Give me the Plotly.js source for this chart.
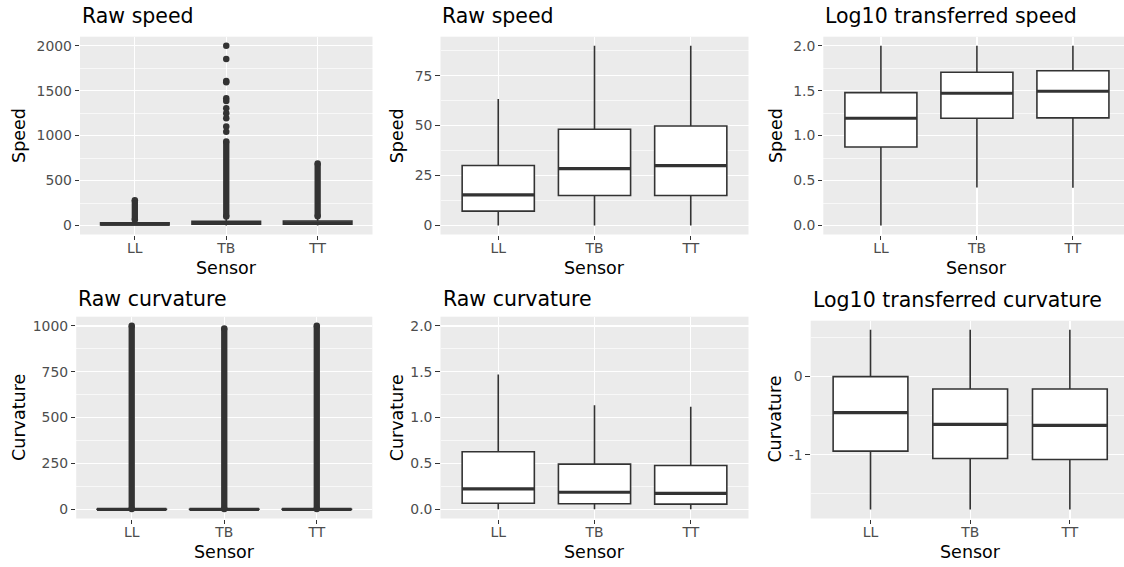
<!DOCTYPE html>
<html>
<head>
<meta charset="utf-8">
<script src="https://cdn.plot.ly/plotly-3.0.1.min.js"></script>
<style>html,body{margin:0;padding:0;background:#fff}#chart{width:1124px;height:567px}</style>
</head>
<body>
<div id="chart"></div>
<script>
// ---------- data ----------
const categories = ['LL', 'TB', 'TT'];

// Raw speed (full data)
const rawSpeedQ1  = [7, 15, 15];
const rawSpeedMed = [15, 28.5, 30];
const rawSpeedQ3  = [30, 48, 50];
const rawSpeedLo  = [0, 0, 0];
const rawSpeedHi  = [63, 97, 101];
const rawSpeedOutLo = [65, 100, 104];
const rawSpeedOutHi = [280, 935, 690];
const rawSpeedTBOutliers = [2000, 1852, 1607, 1593, 1415, 1385, 1304, 1248, 1193, 1100, 1044];

// Raw speed (limited)
const limSpeedQ1  = [7.2, 15, 15];
const limSpeedMed = [15.3, 28.5, 30];
const limSpeedQ3  = [30, 48.2, 49.8];
const limSpeedLo  = [0, 0, 0];
const limSpeedHi  = [63.3, 90, 90];

// Log10 speed
const logSpeedQ1  = [0.874, 1.193, 1.197];
const logSpeedMed = [1.193, 1.471, 1.493];
const logSpeedQ3  = [1.478, 1.704, 1.722];
const logSpeedLo  = [0, 0.422, 0.42];
const logSpeedHi  = [2, 2, 2];

// Raw curvature
const rawCurvQ1  = [0.066, 0.061, 0.057];
const rawCurvMed = [0.222, 0.186, 0.175];
const rawCurvQ3  = [0.627, 0.493, 0.478];
const rawCurvLo  = [0, 0, 0];
const rawCurvHi  = [1.47, 1.135, 1.117];
const rawCurvOutLo = [1.5, 1.16, 1.14];
const rawCurvOutHi = [1000, 985, 1000];

// Log10 curvature
const logCurvQ1  = [-0.953, -1.047, -1.06];
const logCurvMed = [-0.462, -0.61, -0.623];
const logCurvQ3  = [0.0, -0.158, -0.158];
const logCurvLo  = [-1.7, -1.7, -1.7];
const logCurvHi  = [0.6, 0.6, 0.6];

// tick labels
const tickSpeedRaw = [0, 500, 1000, 1500, 2000];
const tickSpeedLim = [0, 25, 50, 75];
const tickUnit     = [0, 0.5, 1, 1.5, 2];
const tickUnitText = ['0.0', '0.5', '1.0', '1.5', '2.0'];
const tickCurvRaw  = [0, 250, 500, 750, 1000];
const tickCurvLog  = [-1, 0];
const tickCurvLogText = ['-1', '0'];

const panelTitles = ['Raw speed', 'Raw speed', 'Log10 transferred speed',
                     'Raw curvature', 'Raw curvature', 'Log10 transferred curvature'];
const yTitles = ['Speed', 'Speed', 'Speed', 'Curvature', 'Curvature', 'Curvature'];
const xTitle = 'Sensor';

// ---------- styling / layout ----------
const W = 1124, H = 567;
const FONT = 'DejaVu Sans';
const DARK = '#333333';
const BW = 0.75;
const idx = categories.map((c, i) => i);

// panel rectangles in px: [left, right, top, bottom]
const panels = [
  [80, 372.5, 36.7, 234.5],
  [440.5, 748.5, 36.7, 234.5],
  [823.3, 1124, 36.7, 234.5],
  [76.2, 372.3, 316.7, 518.5],
  [440.5, 748.5, 316.7, 518.5],
  [810.7, 1124, 320.7, 518.5]
];
const xRanges = [[-0.6, 2.6], [-0.6, 2.6], [-0.6, 2.532], [-0.6, 2.6], [-0.6, 2.6], [-0.6, 2.543]];
const yRanges = [[-100, 2100], [-4.5, 94.5], [-0.1, 2.1], [-50, 1050], [-0.1, 2.1], [-1.815, 0.715]];
const yTicks = [
  [tickSpeedRaw, tickSpeedRaw.map(String)],
  [tickSpeedLim, tickSpeedLim.map(String)],
  [tickUnit, tickUnitText],
  [tickCurvRaw, tickCurvRaw.map(String)],
  [tickUnit, tickUnitText],
  [tickCurvLog, tickCurvLogText]
];
const yMinor = [
  [250, 750, 1250, 1750],
  [12.5, 37.5, 62.5, 87.5],
  [0.25, 0.75, 1.25, 1.75],
  [125, 375, 625, 875],
  [0.25, 0.75, 1.25, 1.75],
  [-1.5, -0.5, 0.5]
];
const yTitleX = [18.3, 396.7, 775.5, 18.3, 396.7, 775];
const titleY = [15.5, 15.5, 15.5, 299.3, 299.3, 300.3];
const xTitleY = [268.5, 268.5, 268.5, 551.5, 551.5, 551.5];

const traces = [];
function ax(i, kind) { return kind + (i === 0 ? '' : (i + 1)); }

function addBox(i, q1, med, q3, lo, hi) {
  traces.push({
    type: 'box', x: idx, q1: q1, median: med, q3: q3, lowerfence: lo, upperfence: hi,
    width: BW, whiskerwidth: 0, boxpoints: false,
    fillcolor: '#ffffff', line: {color: DARK, width: 1.6},
    xaxis: ax(i, 'x'), yaxis: ax(i, 'y'), hoverinfo: 'skip'
  });
  const mx = [], my = [];
  idx.forEach(k => { mx.push(k - BW / 2, k + BW / 2, null); my.push(med[k], med[k], null); });
  traces.push({
    type: 'scatter', mode: 'lines', x: mx, y: my,
    line: {color: DARK, width: 3.2}, xaxis: ax(i, 'x'), yaxis: ax(i, 'y'), hoverinfo: 'skip'
  });
}
function addColumn(i, lo, hi) {
  const cx = [], cy = [];
  idx.forEach(k => { cx.push(k, k, null); cy.push(lo[k], hi[k], null); });
  traces.push({
    type: 'scatter', mode: 'lines+markers', x: cx, y: cy,
    line: {color: DARK, width: 6.3}, marker: {color: DARK, size: 6.5},
    xaxis: ax(i, 'x'), yaxis: ax(i, 'y'), hoverinfo: 'skip'
  });
}

// panel 1
addBox(0, rawSpeedQ1, rawSpeedMed, rawSpeedQ3, rawSpeedLo, rawSpeedHi);
addColumn(0, rawSpeedOutLo, rawSpeedOutHi);
traces.push({
  type: 'scatter', mode: 'markers',
  x: rawSpeedTBOutliers.map(() => categories.indexOf('TB')), y: rawSpeedTBOutliers,
  marker: {color: DARK, size: 6.5}, xaxis: 'x', yaxis: 'y', hoverinfo: 'skip'
});
// panel 2
addBox(1, limSpeedQ1, limSpeedMed, limSpeedQ3, limSpeedLo, limSpeedHi);
// panel 3
addBox(2, logSpeedQ1, logSpeedMed, logSpeedQ3, logSpeedLo, logSpeedHi);
// panel 4
addBox(3, rawCurvQ1, rawCurvMed, rawCurvQ3, rawCurvLo, rawCurvHi);
addColumn(3, rawCurvOutLo, rawCurvOutHi);
// panel 5
addBox(4, rawCurvQ1, rawCurvMed, rawCurvQ3, rawCurvLo, rawCurvHi);
// panel 6
addBox(5, logCurvQ1, logCurvMed, logCurvQ3, logCurvLo, logCurvHi);

const layout = {
  width: W, height: H,
  margin: {l: 0, r: 0, t: 0, b: 0, pad: 0},
  paper_bgcolor: '#ffffff', plot_bgcolor: '#EBEBEB',
  showlegend: false,
  font: {family: FONT, color: '#000000'},
  annotations: []
};

panels.forEach((p, i) => {
  const tickFont = {family: FONT, size: 13.9, color: '#4D4D4D'};
  layout[ax(i, 'xaxis')] = {
    domain: [p[0] / W, Math.min(p[1] / W, 1)],
    range: xRanges[i], anchor: ax(i, 'y'),
    tickmode: 'array', tickvals: idx, ticktext: categories,
    showgrid: true, gridcolor: '#ffffff', gridwidth: 1.3,
    zeroline: false, showline: false,
    ticks: 'outside', ticklen: 4.3, tickwidth: 1.1, tickcolor: DARK,
    ticklabelstandoff: -3,
    tickfont: tickFont, automargin: false, fixedrange: true
  };
  layout[ax(i, 'yaxis')] = {
    domain: [1 - p[3] / H, 1 - p[2] / H],
    range: yRanges[i], anchor: ax(i, 'x'),
    tickmode: 'array', tickvals: yTicks[i][0], ticktext: yTicks[i][1],
    showgrid: true, gridcolor: '#ffffff', gridwidth: 1.3,
    minor: {tickmode: 'array', tickvals: yMinor[i], showgrid: true, gridcolor: '#ffffff', gridwidth: 0.65, ticks: ''},
    zeroline: false, showline: false,
    ticks: 'outside', ticklen: 4.3, tickwidth: 1.1, tickcolor: DARK,
    tickfont: tickFont, automargin: false, fixedrange: true
  };
  // panel title
  layout.annotations.push({
    text: panelTitles[i], xref: 'paper', yref: 'paper',
    x: p[0] / W, y: 1 - titleY[i] / H, xanchor: 'left', yanchor: 'middle',
    showarrow: false, font: {family: FONT, size: 20.5, color: '#000000'}
  });
  // y title
  layout.annotations.push({
    text: yTitles[i], xref: 'paper', yref: 'paper', textangle: -90,
    x: yTitleX[i] / W, y: 1 - ((p[2] + p[3]) / 2) / H, xanchor: 'center', yanchor: 'middle',
    showarrow: false, font: {family: FONT, size: 17.5, color: '#000000'}
  });
  // x title (centered on the full panel, even when clipped)
  const fullRight = p[0] + (p[1] - p[0]) * 3.2 / (xRanges[i][1] - xRanges[i][0]);
  layout.annotations.push({
    text: xTitle, xref: 'paper', yref: 'paper',
    x: ((p[0] + fullRight) / 2) / W, y: 1 - xTitleY[i] / H, xanchor: 'center', yanchor: 'middle',
    showarrow: false, font: {family: FONT, size: 17.5, color: '#000000'}
  });
});

Plotly.newPlot('chart', traces, layout, {staticPlot: true, displayModeBar: false});
</script>
</body>
</html>
